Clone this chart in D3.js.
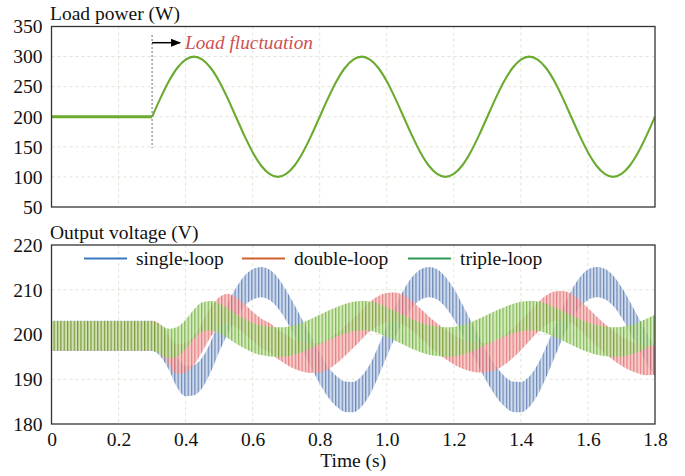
<!DOCTYPE html>
<html><head><meta charset="utf-8">
<script src="https://cdn.jsdelivr.net/npm/d3@7"></script>
<style>
body{margin:0;background:#fff}
</style>
</head><body>
<svg id="c" width="685" height="476"></svg>
<script>
// ---------- data ----------
const xTicks = [0, 0.2, 0.4, 0.6, 0.8, 1.0, 1.2, 1.4, 1.6, 1.8];
const xTickLabels = ["0","0.2","0.4","0.6","0.8","1.0","1.2","1.4","1.6","1.8"];
const powerTicks = [50,100,150,200,250,300,350];
const voltTicks = [180,190,200,210,220];

const loadT = [0,0.3,0.325,0.35,0.375,0.4,0.425,0.45,0.475,0.5,0.525,0.55,0.575,0.6,0.625,0.65,0.675,0.7,0.725,0.75,0.775,
  0.8,0.825,0.85,0.875,0.9,0.925,0.95,0.975,1.0,1.025,1.05,1.075,1.1,1.125,1.15,1.175,1.2,1.225,1.25,1.275,
  1.3,1.325,1.35,1.375,1.4,1.425,1.45,1.475,1.5,1.525,1.55,1.575,1.6,1.625,1.65,1.675,1.7,1.725,1.75,1.775,1.8];
const loadP = [200,200,231,259,281,295,300,295,281,259,231,200,169,141,119,105,100,105,119,141,169,
  200,231,259,281,295,300,295,281,259,231,200,169,141,119,105,100,105,119,141,169,
  200,231,259,281,295,300,295,281,259,231,200,169,141,119,105,100,105,119,141,169,200];

const voltT = loadT;
const singleLoop = [199.7,199.7,198.5,195.5,191.5,189.6,189.8,191.5,195,199.5,203.5,207,209.7,211.2,211.7,211.1,209.3,206.5,203.2,199.6,195.9,
  192.4,189.4,187.3,186.1,186,187.3,190,194,198.5,202.8,206.5,209.4,211.1,211.7,211.2,209.5,206.8,203.4,199.8,196.1,
  192.6,189.6,187.4,186.1,186,187.2,189.9,193.8,198.2,202.6,206.4,209.3,211.1,211.7,211.3,209.8,207.2,204,200.5,197,194];
const doubleLoop = [199.7,199.7,199,196.5,194.5,194.8,196.5,199.5,202.8,205,205.8,205,203.5,201.8,200.3,199.3,197.8,196.6,195.6,195,194.7,
  194.8,195.5,196.8,198.5,200.3,202.2,204,205.3,206,206.1,205.5,204.2,202.5,200.8,199.2,197.8,196.6,195.7,195.1,194.8,
  194.9,195.4,196.5,198,199.8,201.8,203.8,205.4,206.3,206.4,205.8,204.4,202.6,200.8,199.1,197.6,196.3,195.3,194.6,194.2,194.3];
const tripleLoop = [199.7,199.7,198.8,198,198.4,200,202.3,203.9,204.2,203.6,202.5,201.3,200.2,199.3,198.7,198.4,198.3,198.4,198.8,199.4,200.2,
  201.1,202,202.8,203.5,204,204.2,204.1,203.6,202.8,201.9,201,200.1,199.4,198.8,198.5,198.3,198.4,198.8,199.4,200.2,
  201.1,202,202.8,203.5,204,204.2,204.1,203.6,202.8,201.9,201,200.1,199.4,198.8,198.5,198.3,198.4,198.8,199.4,200.2,201.1];
const rippleAmp = {single:3.4, double:3.3, triple:3.3};
const seriesNames = ["single-loop","double-loop","triple-loop"];

// ---------- layout ----------
const FONT = "'Liberation Serif'";
const FS = 19.5;
const svg = d3.select("#c");
const L = 51.5, R = 655;
const top1 = 26.5, bot1 = 207;
const top2 = 245, bot2 = 424;
const x = d3.scaleLinear().domain([0,1.8]).range([L,R]);
const yP = d3.scaleLinear().domain([50,350]).range([bot1,top1]);
const yV = d3.scaleLinear().domain([180,220]).range([bot2,top2]);
const gridCol = "#e3e3d6";

const defs = svg.append("defs");
defs.append("clipPath").attr("id","clip1").append("rect").attr("x",L).attr("y",top1).attr("width",R-L).attr("height",bot1-top1);
defs.append("clipPath").attr("id","clip2").append("rect").attr("x",L).attr("y",top2).attr("width",R-L).attr("height",bot2-top2);
defs.append("marker").attr("id","arr").attr("viewBox","0 0 10 10").attr("refX",9).attr("refY",5)
  .attr("markerWidth",10).attr("markerHeight",10).attr("markerUnits","userSpaceOnUse").attr("orient","auto")
  .append("path").attr("d","M0,1 L10,5 L0,9 Z").attr("fill","#000");

function pattern(id, light, dark){
  const w = 3.35;
  const p = defs.append("pattern").attr("id",id).attr("patternUnits","userSpaceOnUse").attr("width",w).attr("height",20);
  p.append("rect").attr("width",w).attr("height",20).attr("fill",light);
  p.append("rect").attr("x",0).attr("width",1.2).attr("height",20).attr("fill",dark);
}
pattern("pBlue","#c4d2e8","#4a6ea8");
pattern("pRed","#f6c0c0","#e06464");
pattern("pGreen","#cde6b0","#62a82c");

function grid(yScale, ticks, y0, y1){
  const g = svg.append("g");
  g.selectAll("line.v").data(xTicks.slice(1,-1)).join("line")
    .attr("x1",d=>x(d)).attr("x2",d=>x(d)).attr("y1",y0).attr("y2",y1)
    .attr("stroke",gridCol).attr("stroke-width",1).attr("stroke-dasharray","3,3");
  g.selectAll("line.h").data(ticks.slice(1,-1)).join("line")
    .attr("x1",L).attr("x2",R).attr("y1",d=>yScale(d)).attr("y2",d=>yScale(d))
    .attr("stroke",gridCol).attr("stroke-width",1).attr("stroke-dasharray","3,3");
}
grid(yP, powerTicks, top1, bot1);
grid(yV, voltTicks, top2, bot2);

function styleText(sel, size){ return sel.style("font-family",FONT).style("font-size",(size||FS)+"px").style("fill","#111"); }

// y axes labels
function yAxis(yScale, ticks){
  const ax = d3.axisLeft(yScale).tickValues(ticks).tickSize(0).tickPadding(9).tickFormat(d3.format("d"));
  const g = svg.append("g").attr("transform",`translate(${L},0)`).call(ax);
  g.attr("font-family",null).attr("font-size",null);
  g.select(".domain").remove();
  styleText(g.selectAll("text"));
}
yAxis(yP, powerTicks);
yAxis(yV, voltTicks);

// x axis labels (bottom panel)
{
  const ax = d3.axisBottom(x).tickValues(xTicks).tickSize(0).tickPadding(8).tickFormat((d,i)=>xTickLabels[i]);
  const g = svg.append("g").attr("transform",`translate(0,${bot2})`).call(ax);
  g.attr("font-family",null).attr("font-size",null);
  g.select(".domain").remove();
  styleText(g.selectAll("text"));
}

// ---------- top panel ----------
const loadData = loadT.map((t,i)=>({t, v:loadP[i]}));
const gp = svg.append("g").attr("clip-path","url(#clip1)");
const lineP = d3.line().x(d=>x(d.t)).y(d=>yP(d.v)).curve(d3.curveMonotoneX);
gp.append("path").datum(loadData.filter(d=>d.t<=0.3)).attr("d",lineP)
  .attr("fill","none").attr("stroke","#6aab30").attr("stroke-width",3);
gp.append("path").datum(loadData.filter(d=>d.t>=0.3)).attr("d",lineP)
  .attr("fill","none").attr("stroke","#6aab30").attr("stroke-width",2.1);

// annotation
svg.append("line").attr("x1",x(0.3)).attr("x2",x(0.3)).attr("y1",35).attr("y2",148)
  .attr("stroke","#888").attr("stroke-width",1.2).attr("stroke-dasharray","2,2");
svg.append("line").attr("x1",x(0.3)).attr("x2",x(0.3)+28).attr("y1",42.7).attr("y2",42.7)
  .attr("stroke","#000").attr("stroke-width",1.5).attr("marker-end","url(#arr)");
styleText(svg.append("text").attr("x",185).attr("y",49).text("Load fluctuation"), 19.3)
  .style("font-style","italic").style("fill","#cf5050");

// ---------- bottom panel ----------
const gv = svg.append("g").attr("clip-path","url(#clip2)");
function band(vals, amp, pat){
  const data = voltT.map((t,i)=>({t, v:vals[i]}));
  const area = d3.area().x(d=>x(d.t)).y0(d=>yV(d.v-amp)).y1(d=>yV(d.v+amp)).curve(d3.curveMonotoneX);
  gv.append("path").datum(data).attr("d",area).attr("fill",`url(#${pat})`).attr("fill-opacity",0.82);
}
band(singleLoop, rippleAmp.single, "pBlue");
band(doubleLoop, rippleAmp.double, "pRed");
band(tripleLoop, rippleAmp.triple, "pGreen");

// frames
svg.append("rect").attr("x",L).attr("y",top1).attr("width",R-L).attr("height",bot1-top1)
  .attr("fill","none").attr("stroke","#333").attr("stroke-width",1.3);
svg.append("rect").attr("x",L).attr("y",top2).attr("width",R-L).attr("height",bot2-top2)
  .attr("fill","none").attr("stroke","#333").attr("stroke-width",1.3);

// titles
styleText(svg.append("text").attr("x",50).attr("y",19.5).text("Load power (W)"));
styleText(svg.append("text").attr("x",50).attr("y",238.5).text("Output voltage (V)"));
styleText(svg.append("text").attr("x",(L+R)/2).attr("y",467).attr("text-anchor","middle").text("Time (s)"));

// legend
const legColors = ["#3a78bf","#d0612c","#2f9a52"];
const legX = [84, 242, 408];
seriesNames.forEach((n,i)=>{
  svg.append("line").attr("x1",legX[i]).attr("x2",legX[i]+43).attr("y1",258.5).attr("y2",258.5)
    .attr("stroke",legColors[i]).attr("stroke-width",2);
  styleText(svg.append("text").attr("x",legX[i]+52).attr("y",265).text(n));
});
</script>
</body></html>
